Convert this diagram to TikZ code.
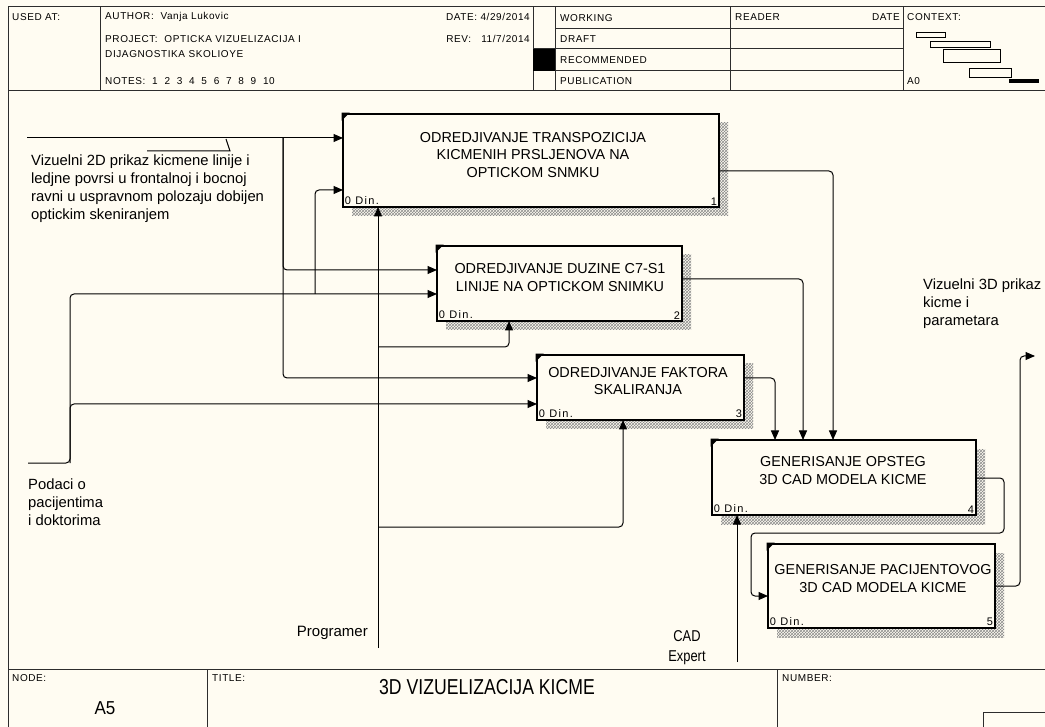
\documentclass[tikz,border=0pt]{standalone}
\usepackage{fontspec}
\setmainfont{Liberation Sans}
\newfontfamily\hdrfont[LetterSpace=6]{Liberation Sans}
\newfontfamily\dinfont[LetterSpace=12]{Liberation Sans}
\usetikzlibrary{arrows.meta,patterns,shadows}
\definecolor{bg}{RGB}{255,252,242}
\definecolor{ln}{RGB}{45,45,45}
\begin{document}
\begin{tikzpicture}[x=1pt,y=-1pt,
  hl/.style={draw=ln, line width=1pt},
  hdr/.style={font=\hdrfont\fontsize{10}{11}\selectfont, inner sep=0pt, anchor=west},
  box/.style={draw=black, line width=2.6pt, fill=bg, inner sep=0pt,
    general shadow={shadow xshift=9pt, shadow yshift=-9pt, pattern=crosshatch, pattern color=black!45}},
  btxt/.style={font=\fontsize{14.4}{17.5}\selectfont, align=center, inner sep=0pt},
  din/.style={font=\dinfont\fontsize{11}{12}\selectfont, inner sep=0pt},
  lbl/.style={font=\fontsize{14.8}{18}\selectfont, align=left, inner sep=0pt},
  arr/.style={draw=black, line width=1pt, rounded corners=4pt, -{Triangle[length=9.5pt,width=8pt]}},
  ln/.style={draw=black, line width=1pt, rounded corners=4pt}
]
\useasboundingbox (0,0) rectangle (1045,727);
\fill[bg] (0,0) rectangle (1045,727);

% ---------- header frame ----------
\draw[hl] (8,7) -- (1045,7);
\draw[hl] (8,7) -- (8,727);
\draw[hl] (8,91) -- (1045,91);
\draw[hl] (100,7) -- (100,91);
\draw[hl] (533,7) -- (533,91);
\draw[hl] (555,7) -- (555,91);
\draw[hl] (730,7) -- (730,91);
\draw[hl] (903,7) -- (903,91);
\draw[hl] (555,29) -- (903,29);
\draw[hl] (533,49) -- (903,49);
\draw[hl] (533,71) -- (903,71);
\fill[black] (533,49) rectangle (555,71);

\node[hdr] (h1) at (12,17) {USED AT:};
\node[hdr] (h2) at (105,17) {AUTHOR:\ \ Vanja Lukovic};
\node[hdr] (h3) at (105,39) {PROJECT:\ \ OPTICKA VIZUELIZACIJA I};
\node[hdr] (h4) at (105,54) {DIJAGNOSTIKA SKOLIOYE};
\node[hdr] (h5) at (105,81) {NOTES:\ \ 1\ \ 2\ \ 3\ \ 4\ \ 5\ \ 6\ \ 7\ \ 8\ \ 9\ \ 10};
\node[hdr, anchor=east] (h6) at (530,17) {DATE: 4/29/2014};
\node[hdr, anchor=east] (h7) at (530,39) {REV:\ \ \ 11/7/2014};
\node[hdr] (h8) at (560,18) {WORKING};
\node[hdr] (h9) at (560,39) {DRAFT};
\node[hdr] (h10) at (560,60) {RECOMMENDED};
\node[hdr] (h11) at (560,81) {PUBLICATION};
\node[hdr] (h12) at (735,17) {READER};
\node[hdr, anchor=east] (h13) at (900,17) {DATE};
\node[hdr] (h14) at (907,17) {CONTEXT:};
\node[hdr] (h15) at (907,81) {A0};

% context miniature
\draw[ln, line width=0.9pt, rounded corners=0pt] (916,32) rectangle (945,37);
\draw[ln, line width=0.9pt, rounded corners=0pt] (930,41) rectangle (990,47);
\draw[ln, line width=0.9pt, rounded corners=0pt] (943,49) rectangle (1000,62);
\draw[ln, line width=0.9pt, rounded corners=0pt] (969,68) rectangle (1011,77);
\fill[black] (1009,79) rectangle (1039,83);

% ---------- boxes ----------
\node[box, minimum width=376pt, minimum height=93pt] (b1) at (531,160.5) {};
\node[box, minimum width=245pt, minimum height=75pt] (b2) at (559.5,283.5) {};
\node[box, minimum width=207pt, minimum height=65pt] (b3) at (640.5,387.5) {};
\node[box, minimum width=264pt, minimum height=75pt] (b4) at (844,477.5) {};
\node[box, minimum width=227pt, minimum height=84pt] (b5) at (881.5,586) {};

\foreach \b in {b1,b2,b3,b4,b5}{
  \fill[black] (\b.north west) -- ++(8,0) -- ++(-8,8) -- cycle;
}

\node[btxt] (t1) at (533,155) {ODREDJIVANJE TRANSPOZICIJA\\KICMENIH PRSLJENOVA NA\\OPTICKOM SNMKU};
\node[btxt] (t2) at (560,277.5) {ODREDJIVANJE DUZINE C7-S1\\LINIJE NA OPTICKOM SNIMKU};
\node[btxt] (t3) at (638,381) {ODREDJIVANJE FAKTORA\\SKALIRANJA};
\node[btxt] (t4) at (843,470.5) {GENERISANJE OPSTEG\\3D CAD MODELA KICME};
\node[btxt] (t5) at (883,578.5) {GENERISANJE PACIJENTOVOG\\3D CAD MODELA KICME};

\foreach \b/\n in {b1/1,b2/2,b3/3,b4/4,b5/5}{
  \node[din, anchor=south west] (\b din) at ([xshift=3pt,yshift=3pt]\b.south west) {0 Din.};
  \node[din, anchor=south east] (\b num) at ([xshift=-3pt,yshift=3pt]\b.south east) {\n};
}

% ---------- ports ----------
\coordinate (b1i1) at (343,138);
\coordinate (b1i2) at (343,190);
\coordinate (b1c) at (378,207);
\coordinate (b1o) at (719,171);
\coordinate (b2i1) at (437,270);
\coordinate (b2i2) at (437,294);
\coordinate (b2c) at (509,321);
\coordinate (b2o) at (682,279);
\coordinate (b3i1) at (537,378);
\coordinate (b3i2) at (537,404);
\coordinate (b3c) at (623,420);
\coordinate (b3o) at (744,378);
\coordinate (b4c1) at (775,440);
\coordinate (b4c2) at (803,440);
\coordinate (b4c3) at (833,440);
\coordinate (b4m) at (737,515);
\coordinate (b4o) at (976,478);
\coordinate (b5i) at (768,596);
\coordinate (b5o) at (995,586);

% free ends and junctions
\coordinate (in1) at (27,138);
\coordinate (j1) at (283,138);
\coordinate (in2) at (28,463);
\coordinate (j2) at (70,463);
\coordinate (j3) at (315,294);
\coordinate (prog) at (378,648);
\coordinate (jp1) at (378,347);
\coordinate (jp2) at (378,527);
\coordinate (cad) at (737,662);
\coordinate (out) at (1035,356);

% ---------- connectors ----------
\draw[arr] (in1) -- (b1i1);
\draw[ln, rounded corners=0pt] (147,151) -- (230,151) -- (226,139);
\draw[arr] (j1) |- (b2i1);
\draw[arr] (j1) |- (b3i1);
\draw[arr] (in2) -- (j2) |- (b2i2);
\draw[arr] (j2) |- (b3i2);
\draw[arr] (j3) |- (b1i2);
\draw[arr] (prog) -- (b1c);
\draw[arr] (jp1) -| (b2c);
\draw[arr] (jp2) -| (b3c);
\draw[arr] (b1o) -| (b4c3);
\draw[arr] (b2o) -| (b4c2);
\draw[arr] (b3o) -| (b4c1);
\draw[arr] (cad) -- (b4m);
\draw[arr] (b4o) -- (1004,478) -- (1004,533) -- (751,533) -- (751,596) -- (b5i);
\draw[arr] (b5o) -- (1020,586) -- (1020,356) -- (out);

% ---------- labels ----------
\node[lbl, anchor=north west] (L1) at (31,155) {Vizuelni 2D prikaz kicmene linije i\\ledjne povrsi u frontalnoj i bocnoj\\ravni u uspravnom polozaju dobijen\\optickim skeniranjem};
\node[lbl, anchor=north west] (L2) at (28,479) {Podaci o\\pacijentima\\i doktorima};
\node[lbl, anchor=east, font=\fontsize{15}{18}\selectfont] (L3) at (368,633) {Programer};
\node[lbl, align=center, font=\fontsize{14}{20}\selectfont] (L4) at (687,648) {\scalebox{0.92}[1.12]{CAD}\\\scalebox{0.92}[1.12]{Expert}};
\node[lbl, anchor=north west] (L5) at (923,279) {Vizuelni 3D prikaz\\kicme i\\parametara};

% ---------- footer ----------
\draw[hl] (8,669) -- (1045,669);
\draw[hl] (207,669) -- (207,727);
\draw[hl] (777,669) -- (777,727);
\draw[hl] (983,727) -- (983,712) -- (1045,712);
\node[hdr] (f1) at (12,678) {NODE:};
\node[hdr] (f2) at (212,678) {TITLE:};
\node[hdr] (f3) at (782,678) {NUMBER:};
\node[inner sep=0pt, font=\fontsize{17}{19}\selectfont] (f4) at (105,708) {\scalebox{1}[1.1]{A5}};
\node[inner sep=0pt, font=\fontsize{18}{22}\selectfont] (f5) at (487,687) {\scalebox{0.98}[1.2]{3D VIZUELIZACIJA KICME}};
\end{tikzpicture}
\end{document}
